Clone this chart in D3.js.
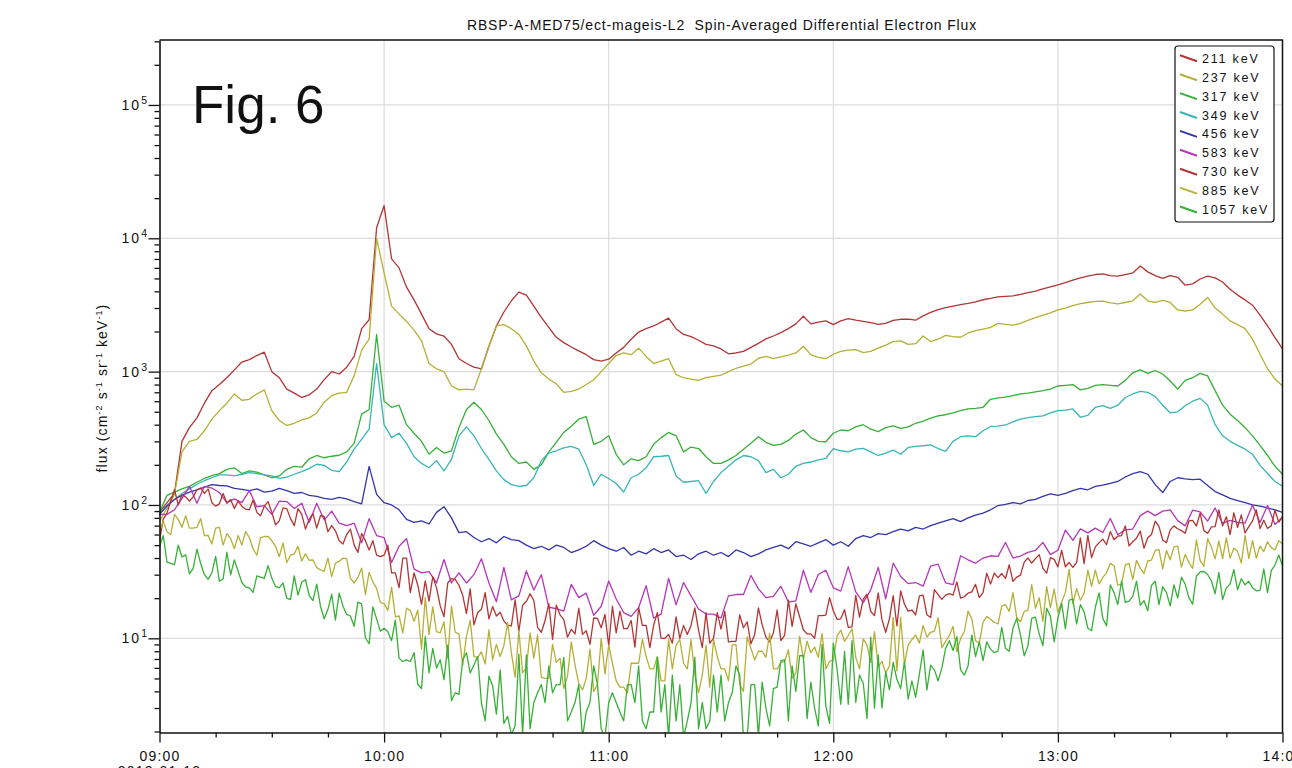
<!DOCTYPE html>
<html>
<head>
<meta charset="utf-8">
<script src="https://cdn.jsdelivr.net/npm/d3@7"></script>
<style>
  body { margin: 0; background: #fff; }
  svg { display: block; }
  text { font-family: "Liberation Sans", Arial, Helvetica, sans-serif; fill: #111; }
</style>
</head>
<body>
<svg id="chart" width="1292" height="768"></svg>
<script>
// ---- time base --------------------------------------------------------
const startTime = new Date(2013, 0, 13, 9, 0);
const endTime = new Date(2013, 0, 13, 14, 0);
const dateLabel = "2013-01-13";

// ---- channels ---------------------------------------------------------
const energyLabels = ["211 keV", "237 keV", "317 keV", "349 keV", "456 keV", "583 keV", "730 keV", "885 keV", "1057 keV"];
const channelColors = ["#b43434", "#b5b035", "#36b036", "#38b5b5", "#3434ab", "#b536b8", "#b43434", "#b5b035", "#36b036"];
// sample spacing of each channel, minutes
const sampleMinutes = [2, 2, 2, 2, 2, 2, 1, 1, 1];

// flux, cm^-2 s^-1 sr^-1 keV^-1 ; one row per half hour (2-min samples)
const flux211 = [
  88,104,122,300,380,450,580,720,800,900,1030,1180,1230,1320,1400,
  1000,900,740,690,640,670,740,870,1000,960,1080,1300,2100,2450,12000,
  17600,7000,6000,4300,3450,2700,2100,1920,1850,1600,1250,1150,1080,1050,1550,
  2200,2800,3400,3950,3750,3100,2550,2150,1810,1650,1530,1430,1340,1230,1200,
  1240,1380,1520,1750,1980,2100,2200,2350,2520,2100,1900,1830,1720,1600,1560,
  1480,1360,1380,1420,1520,1630,1760,1850,1960,2100,2280,2600,2280,2350,2400,
  2250,2400,2500,2430,2380,2330,2260,2300,2420,2470,2480,2430,2620,2780,2920,
  3020,3100,3180,3250,3340,3460,3540,3640,3670,3700,3800,3920,4020,4180,4330,
  4480,4650,4850,5050,5200,5350,5400,5250,5200,5350,5500,6200,5600,5250,5000,
  5250,5100,4450,4550,4950,5200,5050,4700,4150,3750,3450,3150,2650,2200,1800,
  1480
];
const flux237 = [
  75,95,120,250,300,310,360,440,510,580,680,610,620,680,730,
  510,430,395,410,435,450,490,590,660,690,700,930,1450,1750,10000,
  5500,3100,2700,2380,2050,1700,1150,1050,1000,780,730,740,730,1050,1550,
  2200,2250,2100,1900,1560,1200,980,880,810,700,710,740,800,870,1000,
  1150,1320,1380,1340,1500,1300,1150,1200,1250,950,900,880,860,900,920,
  940,1000,1060,1100,1140,1260,1300,1250,1290,1330,1380,1550,1340,1280,1250,
  1350,1420,1450,1460,1390,1420,1500,1580,1680,1700,1600,1620,1850,1680,1750,
  1870,1830,1810,1950,2030,2080,2150,2300,2260,2230,2300,2420,2540,2650,2760,
  2900,3000,3120,3240,3300,3360,3380,3280,3220,3300,3400,3820,3400,3300,3420,
  3300,2900,2850,2900,3200,3600,3000,2700,2400,2250,2100,1750,1350,1050,880,
  780
];
const flux317 = [
  88,118,125,132,138,148,158,166,172,185,190,172,180,176,168,
  160,165,185,195,192,222,235,226,232,236,250,290,480,520,1900,
  600,540,560,400,345,300,240,270,245,255,380,520,590,520,430,
  340,285,230,205,210,185,200,250,295,350,390,440,460,285,300,
  330,240,200,222,215,230,285,320,350,330,250,272,265,230,205,
  205,218,235,262,290,325,295,280,285,305,340,365,320,300,298,
  345,365,360,385,400,370,355,380,392,375,385,410,425,448,465,
  475,490,510,525,530,540,620,635,645,660,680,690,705,720,740,
  780,790,800,730,750,790,800,790,780,860,980,1030,970,1020,960,
  850,740,860,900,970,930,720,560,480,430,380,330,280,235,195,
  170
];
const flux349 = [
  85,100,110,122,132,143,152,160,168,168,165,170,175,172,168,
  165,158,162,170,178,188,202,198,182,178,210,262,310,370,1150,
  400,320,345,290,230,205,190,215,180,220,330,385,330,265,220,
  180,155,142,138,140,160,215,245,255,268,275,262,200,140,170,
  158,145,125,160,170,190,230,232,235,165,148,150,152,122,150,
  175,195,218,235,230,215,175,185,160,170,195,205,210,218,224,
  265,255,250,262,266,250,235,245,258,240,270,275,278,282,265,
  252,300,325,330,325,360,388,390,398,420,440,452,460,466,490,
  510,515,525,455,470,540,555,530,560,640,680,710,700,650,560,
  490,500,555,600,630,560,400,330,300,280,262,240,198,172,150,
  138
];
const flux456 = [
  85,98,110,118,125,130,136,142,140,139,133,131,128,132,125,
  127,133,128,122,124,118,116,112,110,114,111,106,102,195,120,
  104,100,92,78,74,76,72,88,97,80,62,63,57,53,56,
  52,58,55,54,50,47,49,46,50,48,44,46,49,54,50,
  47,45,48,42,45,43,47,44,46,41,42,39,43,45,42,
  44,41,46,44,41,43,46,48,50,47,53,51,49,52,55,
  50,53,49,56,59,57,61,60,63,66,64,68,66,70,73,
  76,79,75,80,84,87,92,99,101,104,102,108,110,116,121,
  118,122,128,133,130,138,141,145,150,162,172,178,170,142,124,
  150,160,157,155,156,140,126,119,112,108,104,100,98,95,92,
  88
];
const flux583 = [
  85,85,92,112,138,103,138,134,124,104,111,104,128,97,99,
  85,107,106,94,103,74,103,77,90,73,70,73,52,79,59,
  57,37,49,56,33,31,31.6,26,39,26,31,26,30,39.5,26,
  18.8,34,19.4,20.8,32,23,30,17.1,16.7,16,25.4,20.2,21.8,14.9,17.4,
  26.9,19.7,15.6,14.6,17,24.8,14.2,15.2,28.2,17.8,26.2,20.8,16.6,15.2,15.2,
  14.2,20.8,21.3,21.3,29.6,23.5,20.2,20.6,24.6,18.7,19.1,32.4,22.1,30.1,32.4,
  23.9,22.6,34.5,22.3,18.5,23.1,34,19.8,36.7,29.1,25.7,26.2,24.6,34.8,36,
  26,25.3,41.6,38.8,36.6,40,41.6,41.2,52.3,40,41.4,44.1,45.6,52.4,42.4,
  45.8,64.8,54.3,66.1,61.8,67,62.1,79.2,59.8,65.1,66,83.2,90,83.2,90,
  92,76.3,69.7,91.3,88.6,75.7,95,72.7,76.6,74,73.1,100,74,99,71.4,
  80.5
];
// one row per ten minutes (1-min samples)
const flux730 = [
  54,78,87,107,130,100,119,115,107,115,
  130,134,122,132,104,98,102,122,103,110,
  94,107,98,93,92,109,88,83,98,106,
  88,71,76,95,94,79,70,94,85,66,
  78,86,67,83,82,63,70,64,54,51,
  60,66,50,44,61,54,46,54,42,41,
  42,50,31,31,24,40,40,22,31,25,
  18,27,19,29,24,17.5,14.5,26,28,27.5,
  25,21,15.3,23.5,12.6,15.6,16.5,22,14,17.3,
  14.7,15.7,13.5,12.5,12.4,19.4,11.3,17.7,18.9,21.6,
  19.2,12.1,11.1,13.6,18.2,9.8,17.7,15,13.8,10.2,
  11.7,10.8,16.8,10.7,11.4,9,14.2,14.1,12,15.1,
  8.8,17.4,11,16,11.8,11.8,13.6,8.6,17,12.5,
  12.5,8.5,12.5,15.6,10,10,10.7,9.2,14.5,10,
  12.5,10.7,12.5,16.9,11.5,8.5,15.6,9.2,10,15.6,
  11.7,15.9,9.4,9.5,9.5,15,12,13.3,9.1,10.7,
  16.9,12.6,10.2,9.4,11,16.3,9.6,10.5,19.3,12.3,
  18.1,14.5,11.6,10.8,10.8,10,14.8,14.8,14.9,20.2,
  16.1,13.9,14,16.4,12.1,12.2,21,14.4,19.7,21.4,
  15.9,14.8,21.9,13.8,11.1,14,20.9,12.4,22.7,18.1,
  16,16.3,15,20.8,21.1,15,14.3,23.2,21.3,19.6,
  21.1,21.6,21.1,26.5,20,20.5,21.8,22.3,25.4,20.2,
  22,30.8,25.5,30.8,28.5,30.6,28.1,35.6,26.7,28.8,
  29.8,37.3,40,36.7,39.6,42.4,33.5,30.8,40.3,39.1,
  34.3,45.6,34.4,37,34,37,56.7,36.3,59.2,40.3,
  48.5,52.2,55.4,50.4,63.2,54.9,58.3,59,69.7,49.3,
  53,56.3,63.7,47.4,56.7,60.1,75.6,69.1,54.6,52.1,
  65,69.7,66.3,64.2,61.3,75.9,76.7,69.5,86.8,64.2,
  61.3,68.4,68.8,92,69.8,81.6,60,87.4,68,84.2,
  61.6,68.8,76,92,66.4,76.8,66.7,70,91,74.4,
  82
];
const flux885 = [
  63,76,63,60,85,78,68,83,67,67,
  68,79,59,59,51,67,68,50,61,56,
  47,59,50,63,57,47,42,57,58,58,
  54,49,41,52,37,42,43,49,38,43,
  38.5,38.7,34,32.6,31.8,40,29,36.6,37.7,40,
  39.6,28.2,26,28.6,33.6,21.3,31.2,26.5,23.7,18.5,
  18.2,16.2,24.2,14.5,14.7,11,16.8,16.2,13.4,16.3,
  8.3,20.2,10.7,17.2,11.2,11,13.3,7.1,17.4,11.1,
  10.8,6.3,10.3,13.7,7.3,7.2,7.9,6.4,11.6,6.9,
  9,7.3,8.8,13.1,7.8,5.1,11.4,5.5,6,11,
  7.1,10.6,5.1,5,5,9,6.6,7.1,4.2,5.2,
  9.4,6.3,4.6,4.1,5,8.3,4,4.5,10,5.4,
  8.9,6.5,4.8,4.3,4.3,3.9,6.5,6.5,6.5,9.8,
  7.3,5.9,5.9,7.3,4.8,4.8,9.8,5.9,8.9,9.8,
  6.5,5.9,9.8,5.3,3.9,5.3,8.9,4.3,9.8,7.3,
  5.9,5.9,4.8,8.9,9,4.5,4,10.3,8.4,6.9,
  8,8,7.2,10.9,5.9,5.9,6.6,6.7,8.2,5,
  5.5,10.4,7,9.5,7.8,8.6,7.2,10.9,5.9,6.7,
  6.9,10.4,11.5,9.5,10.5,11.8,7.2,5.9,9.9,8.9,
  6.6,11.2,6.1,6.7,5.5,6.2,14.3,5.7,14.4,6.4,
  8.9,9.8,10.6,9.2,12.5,10.2,11.1,11.3,14.3,8.5,
  9.5,10.5,12.3,7.9,10,11.2,16,14,9.6,9.2,
  13.2,14.6,13.9,13.2,12.8,17.5,17.9,15.9,22,14.3,
  13.3,15.9,16.2,25.3,16.8,20.2,13.4,24.4,17,23.5,
  15.6,18.7,22.1,32.9,18.2,23.6,19.3,21.7,32.4,24.5,
  32.5,25.6,28.6,31,36.5,35,25,25.5,35.5,36.5,
  27.7,38.4,33.6,30.7,38,38.6,45.6,46.2,33.1,45.6,
  38.8,48.5,49.1,34.2,42.6,37,33.5,54.6,38.2,34.8,
  56,48.3,39.4,53.8,39.6,56.7,40,47.4,44.9,36.7,
  59,39.7,54,40,49.2,44.7,52.9,47.9,46,54,
  51
];
const flux1057 = [
  48.5,59,37.3,36.5,35.6,49.9,40.7,42.2,30.4,33.5,
  46.7,36.4,30,27.7,31,41.2,26.8,27.9,44.2,29.9,
  38.7,31.9,26.2,24.3,23.9,22.1,29.4,28.8,28.1,35.1,
  28.3,24.5,23.9,26,20,19.5,29.4,21.1,26.3,27.5,
  20.9,19.2,25.5,17.4,14,16.5,21.4,13.7,21.8,17.5,
  15.1,14.7,12.3,18.7,18.1,10.1,9.1,17.2,14,11.3,
  11.9,11.2,9.6,13.7,7.1,6.7,6.9,6.7,7.8,4.5,
  4.2,10.3,5.5,8.4,6,6.9,4.9,8.9,3.4,3.9,
  3.8,6.9,7.8,5.5,6.3,7.3,3.3,2.4,5.2,4.4,
  2.7,5.8,2.3,2.6,1.9,2.2,7.6,1.9,7.5,2.1,
  3.3,3.9,4.5,3.3,6.2,3.9,4.5,4.5,7.2,2.4,
  2.8,3.3,4.5,1.8,2.8,3.3,6.2,4.5,2.1,1.8,
  3.3,3.9,3.3,2.8,2.4,4.5,4.5,3.3,6.2,2.4,
  2.1,2.8,2.8,7.2,2.8,4.5,1.8,5.3,2.4,4.5,
  1.8,2.4,3.3,7.2,2.1,3.3,2.1,2.4,5.3,2.8,
  5.3,2.4,3.3,3.9,6.2,5.3,1.8,1.8,4.5,4.5,
  1.85,4.7,3,2.2,4.2,4.3,6.8,6.9,2.4,6.2,
  4,7.4,7.4,2.5,4.7,3,2.2,9,3.1,2.3,
  9.2,5.9,3.2,8,3.2,9.6,3.3,5.3,4.6,2.5,
  10.2,3,7.5,3,5.6,4.1,6.6,4.9,4.2,6.7,
  3.5,4.8,3.6,5.4,8.2,4.1,6.3,5.8,4.8,6,
  8.4,9.6,8.1,10.3,5.8,5.3,6.2,10.6,7.3,9.4,
  6.8,9.4,8.3,7.8,8,12.1,8.4,8,11.9,14.1,
  10.6,7.4,8.8,14.1,14.4,10.8,8.8,16.8,14.6,9.4,
  14.2,18.3,11.8,19.3,19.7,12.8,17.9,15.8,11.9,11.4,
  17.1,21.9,14.1,12.4,25.1,22,17.9,26.8,18.6,19,
  20.6,26.8,17.7,19.2,16.1,24.9,26.8,17.9,24.4,22,
  17.5,25.2,20,28.7,25.5,20.2,18,29.3,31.5,31.7,
  30.1,27,21.6,31.2,19.5,23.9,25.5,32.7,23.1,28,
  25.2,26.8,23.9,22.7,22.9,33.2,22,32.2,35.4,42.2,
  35
];
const channelFlux = [flux211, flux237, flux317, flux349, flux456, flux583, flux730, flux885, flux1057];

// ---- axes -------------------------------------------------------------
const fluxFloor = 1.966, fluxCeiling = 3.07e5;
const decadeExponents = [1, 2, 3, 4, 5];
const hourLabels = ["09:00", "10:00", "11:00", "12:00", "13:00", "14:00"];
const titleText = "RBSP-A-MED75/ect-mageis-L2  Spin-Averaged Differential Electron Flux";
const figureLabel = "Fig. 6";

// ---- layout -----------------------------------------------------------
const plot = { left: 159.5, right: 1282.5, top: 40, bottom: 732.5 };
const svg = d3.select("#chart");

const x = d3.scaleTime().domain([startTime, endTime]).range([plot.left, plot.right]);
const y = d3.scaleLog().domain([fluxFloor, fluxCeiling]).range([plot.bottom, plot.top]);

const hourDates = d3.timeHour.range(startTime, d3.timeMinute.offset(endTime, 1));
const quarterDates = d3.timeMinute.every(15).range(startTime, d3.timeMinute.offset(endTime, 1))
  .filter(d => d.getMinutes() !== 0);
const decadeValues = decadeExponents.map(e => Math.pow(10, e));
const minorValues = [];
for (let e = 0; e <= 5; e++) for (let m = 2; m <= 9; m++) {
  const v = m * Math.pow(10, e);
  if (v >= fluxFloor && v <= fluxCeiling) minorValues.push(v);
}

// grid
const grid = svg.append("g").attr("stroke", "#dcdcdc").attr("stroke-width", 1.2);
grid.selectAll("line.h").data(decadeValues).join("line")
  .attr("x1", plot.left).attr("x2", plot.right)
  .attr("y1", d => y(d)).attr("y2", d => y(d));
grid.selectAll("line.v").data(hourDates.slice(1, -1)).join("line")
  .attr("x1", d => x(d)).attr("x2", d => x(d))
  .attr("y1", plot.top).attr("y2", plot.bottom);

// data lines
svg.append("clipPath").attr("id", "plotClip").append("rect")
  .attr("x", plot.left).attr("y", plot.top)
  .attr("width", plot.right - plot.left).attr("height", plot.bottom - plot.top);

const lines = svg.append("g").attr("clip-path", "url(#plotClip)");
channelFlux.forEach((vals, k) => {
  const step = sampleMinutes[k];
  const line = d3.line()
    .x((d, i) => x(d3.timeMinute.offset(startTime, i * step)))
    .y(d => y(d));
  lines.append("path")
    .datum(vals)
    .attr("fill", "none")
    .attr("stroke", channelColors[k])
    .attr("stroke-width", 1.3)
    .attr("stroke-linejoin", "round")
    .attr("d", line);
});

// frame
svg.append("path")
  .attr("d", `M${plot.left},${plot.top}H${plot.right}V${plot.bottom}`)
  .attr("fill", "none").attr("stroke", "#111").attr("stroke-width", 1.5);

// y axis
const yAxisG = svg.append("g").attr("transform", `translate(${plot.left},0)`);
yAxisG.call(d3.axisLeft(y).tickValues(decadeValues).tickSize(11).tickSizeOuter(0).tickFormat(""));
yAxisG.call(g => g.select(".domain").attr("stroke", "#111").attr("stroke-width", 1.6));
yAxisG.selectAll(".tick line").attr("stroke", "#111").attr("stroke-width", 1.3);
const yMinor = svg.append("g").attr("transform", `translate(${plot.left},0)`);
yMinor.call(d3.axisLeft(y).tickValues(minorValues).tickSize(5).tickSizeOuter(0).tickFormat(""));
yMinor.select(".domain").remove();
yMinor.selectAll(".tick line").attr("stroke", "#111").attr("stroke-width", 1.3);

const yLabels = svg.append("g");
decadeExponents.forEach(e => {
  const t = yLabels.append("text")
    .attr("x", 147).attr("y", y(Math.pow(10, e)) + 5)
    .attr("text-anchor", "end").attr("font-size", 14).attr("letter-spacing", 2);
  t.append("tspan").text("10");
  t.append("tspan").attr("dy", -6).attr("font-size", 10.5).attr("letter-spacing", 0).text(String(e));
});

// x axis
const xAxisG = svg.append("g").attr("transform", `translate(0,${plot.bottom})`);
xAxisG.call(d3.axisBottom(x).tickValues(hourDates).tickSize(10).tickSizeOuter(0)
  .tickPadding(9).tickFormat((d, i) => hourLabels[i]));
xAxisG.select(".domain").attr("stroke", "#111").attr("stroke-width", 1.6);
xAxisG.selectAll(".tick line").attr("stroke", "#111").attr("stroke-width", 1.3);
xAxisG.selectAll(".tick text").attr("font-size", 14).attr("letter-spacing", 1.2)
  .attr("fill", "#111").attr("font-family", "Liberation Sans, Arial, sans-serif");
const xMinor = svg.append("g").attr("transform", `translate(0,${plot.bottom})`);
xMinor.call(d3.axisBottom(x).tickValues(quarterDates).tickSize(5).tickSizeOuter(0).tickFormat(""));
xMinor.select(".domain").remove();
xMinor.selectAll(".tick line").attr("stroke", "#111").attr("stroke-width", 1.3);

svg.append("text").attr("x", x(startTime)).attr("y", 776)
  .attr("text-anchor", "middle").attr("font-size", 14).attr("letter-spacing", 1.2)
  .text(dateLabel);

// axis title
const yTitle = svg.append("text")
  .attr("transform", `translate(107,388) rotate(-90)`)
  .attr("text-anchor", "middle").attr("font-size", 14).attr("letter-spacing", 1.1);
[["flux (cm", 0], ["-2", -5], [" s", 5], ["-1", -5], [" sr", 5], ["-1", -5], [" keV", 5], ["-1", -5], [")", 5]]
  .forEach(([s, dy]) => {
    const sp = yTitle.append("tspan").attr("dy", dy).text(s);
    if (dy < 0) sp.attr("font-size", 9);
  });

// title
svg.append("text").attr("x", 722).attr("y", 30)
  .attr("text-anchor", "middle").attr("font-size", 14).attr("letter-spacing", 0.85)
  .style("white-space", "pre").text(titleText);

// figure label
svg.append("text").attr("x", 192).attr("y", 123)
  .attr("font-size", 53).attr("fill", "#222").text(figureLabel);

// legend
const legend = svg.append("g");
legend.append("rect")
  .attr("x", 1175).attr("y", 46).attr("width", 99).attr("height", 176).attr("rx", 3)
  .attr("fill", "#fff").attr("stroke", "#111").attr("stroke-width", 1.2);
energyLabels.forEach((lab, i) => {
  const cy = 58.3 + i * 18.9;
  legend.append("line")
    .attr("x1", 1180).attr("y1", cy - 3).attr("x2", 1197).attr("y2", cy + 3)
    .attr("stroke", channelColors[i]).attr("stroke-width", 2);
  legend.append("text").attr("x", 1202).attr("y", cy + 4.5)
    .attr("font-size", 12.5).attr("letter-spacing", 1.8).text(lab);
});
</script>
</body>
</html>
